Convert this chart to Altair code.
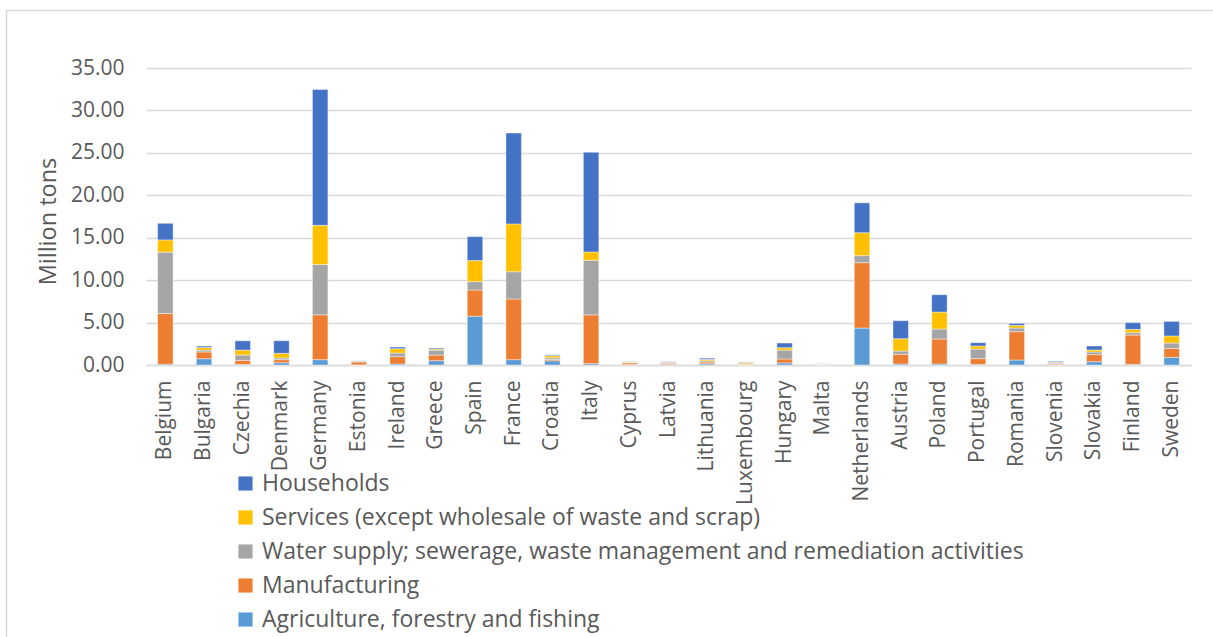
import altair as alt
import pandas as pd

countries = ["Belgium", "Bulgaria", "Czechia", "Denmark", "Germany", "Estonia",
             "Ireland", "Greece", "Spain", "France", "Croatia", "Italy", "Cyprus",
             "Latvia", "Lithuania", "Luxembourg", "Hungary", "Malta", "Netherlands",
             "Austria", "Poland", "Portugal", "Romania", "Slovenia", "Slovakia",
             "Finland", "Sweden"]

agriculture = [0.10, 0.74, 0.08, 0.27, 0.63, 0.02, 0.12, 0.51, 5.75, 0.63, 0.50, 0.16, 0.05,
               0.05, 0.15, 0.02, 0.24, 0.01, 4.35, 0.12, 0.12, 0.08, 0.59, 0.05, 0.39, 0.08, 0.90]
manufacturing = [5.96, 0.80, 0.47, 0.36, 5.28, 0.33, 0.86, 0.66, 3.09, 7.15, 0.15, 5.75, 0.20,
                 0.15, 0.20, 0.08, 0.47, 0.05, 7.71, 1.14, 2.94, 0.67, 3.34, 0.10, 0.83, 3.45, 1.06]
water_waste = [7.24, 0.22, 0.62, 0.20, 5.94, 0.12, 0.43, 0.59, 0.98, 3.21, 0.20, 6.43, 0.06,
               0.10, 0.15, 0.05, 1.05, 0.05, 0.83, 0.39, 1.18, 1.13, 0.43, 0.10, 0.31, 0.28, 0.63]
services = [1.44, 0.30, 0.59, 0.55, 4.61, 0.02, 0.51, 0.12, 2.50, 5.63, 0.25, 0.98, 0.04,
            0.03, 0.15, 0.15, 0.28, 0.03, 2.70, 1.45, 2.00, 0.36, 0.31, 0.08, 0.24, 0.39, 0.83]
households = [1.96, 0.17, 1.09, 1.48, 16.00, 0.02, 0.19, 0.12, 2.81, 10.72, 0.10, 11.75, 0.04,
              0.06, 0.15, 0.05, 0.55, 0.02, 3.52, 2.12, 2.04, 0.39, 0.24, 0.10, 0.47, 0.79, 1.72]

sectors = [
    "Agriculture, forestry and fishing",
    "Manufacturing",
    "Water supply; sewerage, waste management and remediation activities",
    "Services (except wholesale of waste and scrap)",
    "Households",
]
sector_values = [agriculture, manufacturing, water_waste, services, households]
sector_colors = ["#5B9BD5", "#ED7D31", "#A5A5A5", "#FFC000", "#4472C4"]

rows = []
for order, (sector, values) in enumerate(zip(sectors, sector_values)):
    for country, v in zip(countries, values):
        rows.append({"country": country, "sector": sector, "value": v, "order": order})
df = pd.DataFrame(rows)

FONT = "Open Sans"
TEXT = "#595959"
GRID = "#D9D9D9"

legend_order = list(reversed(sectors))

bars = alt.Chart(df).mark_bar(stroke="white", strokeWidth=0.6, strokeOpacity=0.7).encode(
    x=alt.X("country:N", sort=countries, title=None,
            scale=alt.Scale(paddingInner=0.6, paddingOuter=0.3),
            axis=alt.Axis(labelAngle=-90, ticks=False, labelPadding=15,
                          labelFontSize=21, labelColor=TEXT, labelFont=FONT,
                          domainColor=GRID, domainWidth=1.5, grid=False)),
    y=alt.Y("value:Q", stack="zero", title="Million tons",
            scale=alt.Scale(domain=[0, 35], nice=False),
            axis=alt.Axis(values=[0, 5, 10, 15, 20, 25, 30, 35], format=".2f",
                          labelFontSize=21, labelColor=TEXT, labelFont=FONT, labelPadding=22,
                          titleFontSize=23.5, titleColor=TEXT, titleFont=FONT,
                          titleFontWeight="normal", titlePadding=10, titleY=153,
                          domain=False, ticks=False, gridColor=GRID, gridWidth=1.5)),
    color=alt.Color("sector:N",
                    scale=alt.Scale(domain=sectors, range=sector_colors),
                    sort=legend_order,
                    legend=alt.Legend(title=None, orient="none", legendX=88, legendY=404,
                                      symbolType="square", symbolSize=200,
                                      symbolStrokeWidth=0, labelFontSize=23,
                                      labelColor=TEXT, labelFont=FONT, labelOffset=5,
                                      rowPadding=10, labelLimit=900,
                                      values=legend_order)),
    order=alt.Order("order:Q", sort="ascending"),
)

# light outer frame around the chart
frame_data = pd.DataFrame({"k": [0]})
frame_left = alt.Chart(frame_data).mark_rule(color=GRID, strokeWidth=1.5).encode(
    x=alt.value(-139.5), y=alt.value(-57.5), y2=alt.value(700))
frame_top = alt.Chart(frame_data).mark_rule(color=GRID, strokeWidth=1.5).encode(
    x=alt.value(-139.5), x2=alt.value(1100), y=alt.value(-57.5))

chart = alt.layer(frame_left, frame_top, bars).properties(
    width=1045, height=297,
    autosize=alt.AutoSizeParams(type="none"),
    padding={"left": 146, "top": 68, "right": 22, "bottom": 272},
    background="white",
).configure_view(stroke=None)

chart.save("out.html", embed_options={"renderer": "svg", "actions": False})
